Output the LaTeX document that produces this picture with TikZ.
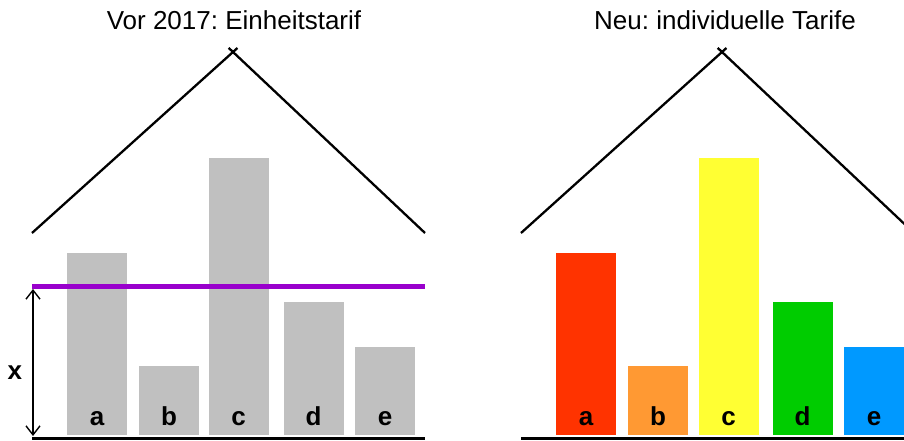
\documentclass[tikz,border=0pt]{standalone}
\usepackage{fontspec}
\setmainfont{Liberation Sans}
\frenchspacing
\usepackage{tikz}
\usetikzlibrary{positioning, calc, arrows.meta}
\definecolor{barGray}{HTML}{C0C0C0}
\definecolor{tarifLine}{HTML}{9900CC}
\definecolor{tarA}{HTML}{FF3300}
\definecolor{tarB}{HTML}{FF9933}
\definecolor{tarC}{HTML}{FFFF33}
\definecolor{tarD}{HTML}{00CC00}
\definecolor{tarE}{HTML}{0099FF}
\tikzset{roof/.style={draw, line width=2.3pt, shorten >=-6pt}}
\tikzset{ground/.style={draw, line width=3pt}}
\tikzset{bar/.style={rectangle, anchor=south, inner sep=0, outer sep=0, minimum width=60pt, fill=#1}}
\tikzset{barlbl/.style={anchor=base, yshift=10pt, font=\fontsize{26}{26}\selectfont\bfseries}}
\tikzset{ttl/.style={font=\fontsize{26}{26}\selectfont}}
\tikzset{dimarr/.style={draw, {Straight Barb[length=9pt,width=14pt]}-{Straight Barb[length=9pt,width=14pt]}, line width=1.4pt}}

\begin{document}
\begin{tikzpicture}[x=1pt, y=-1pt]
    \useasboundingbox (0,0) rectangle (904,441);
    %
    \node[ttl] (tL) at (234,20) {Vor 2017: Einheitstarif};
    \node[ttl] (tR) at (725,20) {Neu: individuelle Tarife};
    %
    \coordinate (lL) at (32,233);
    \coordinate (lTop) at (233,52);
    \coordinate (lR) at (425,233);
    \coordinate (rL) at (521,233);
    \coordinate (rTop) at (722,52);
    \coordinate (rR) at (914,233);
    \draw[roof] (lL) -- (lTop);
    \draw[roof] (lR) -- (lTop);
    \draw[roof] (rL) -- (rTop);
    \draw[roof] (rR) -- (rTop);
    %
    \node[bar=barGray, minimum height=182pt] (la) at (97,435) {};
    \node[bar=barGray, minimum height=69pt] (lb) at (169,435) {};
    \node[bar=barGray, minimum height=277pt] (lc) at (238.5,435) {};
    \node[bar=barGray, minimum height=133pt] (ld) at (313.5,435) {};
    \node[bar=barGray, minimum height=88pt] (le) at (385,435) {};
    \node[barlbl] at (la.south) {a};
    \node[barlbl] at (lb.south) {b};
    \node[barlbl] at (lc.south) {c};
    \node[barlbl] at (ld.south) {d};
    \node[barlbl] at (le.south) {e};
    %
    \node[bar=tarA, minimum height=182pt] (ra) at (586,435) {};
    \node[bar=tarB, minimum height=69pt] (rb) at (658,435) {};
    \node[bar=tarC, minimum height=277pt] (rc) at (728.5,435) {};
    \node[bar=tarD, minimum height=133pt] (rd) at (802.5,435) {};
    \node[bar=tarE, minimum height=88pt] (re) at (874,435) {};
    \node[barlbl] at (ra.south) {a};
    \node[barlbl] at (rb.south) {b};
    \node[barlbl] at (rc.south) {c};
    \node[barlbl] at (rd.south) {d};
    \node[barlbl] at (re.south) {e};
    %
    \coordinate (gL1) at (32,438);
    \coordinate (gL2) at (425,438);
    \coordinate (gR1) at (521,438);
    \coordinate (gR2) at (914,438);
    \draw[ground] (gL1) -- (gL2);
    \draw[ground] (gR1) -- (gR2);
    %
    \coordinate (pL) at (32,286);
    \coordinate (pR) at (425,286);
    \draw[tarifLine, line width=5pt] (pL) -- (pR);
    %
    \coordinate (xTop) at (33,289);
    \coordinate (xBot) at (33,436);
    \draw[dimarr] (xTop) to
        node[pos=0.57, left=7pt, font=\fontsize{26}{26}\selectfont\bfseries]{x}
        (xBot);
    %
\end{tikzpicture}
\end{document}
